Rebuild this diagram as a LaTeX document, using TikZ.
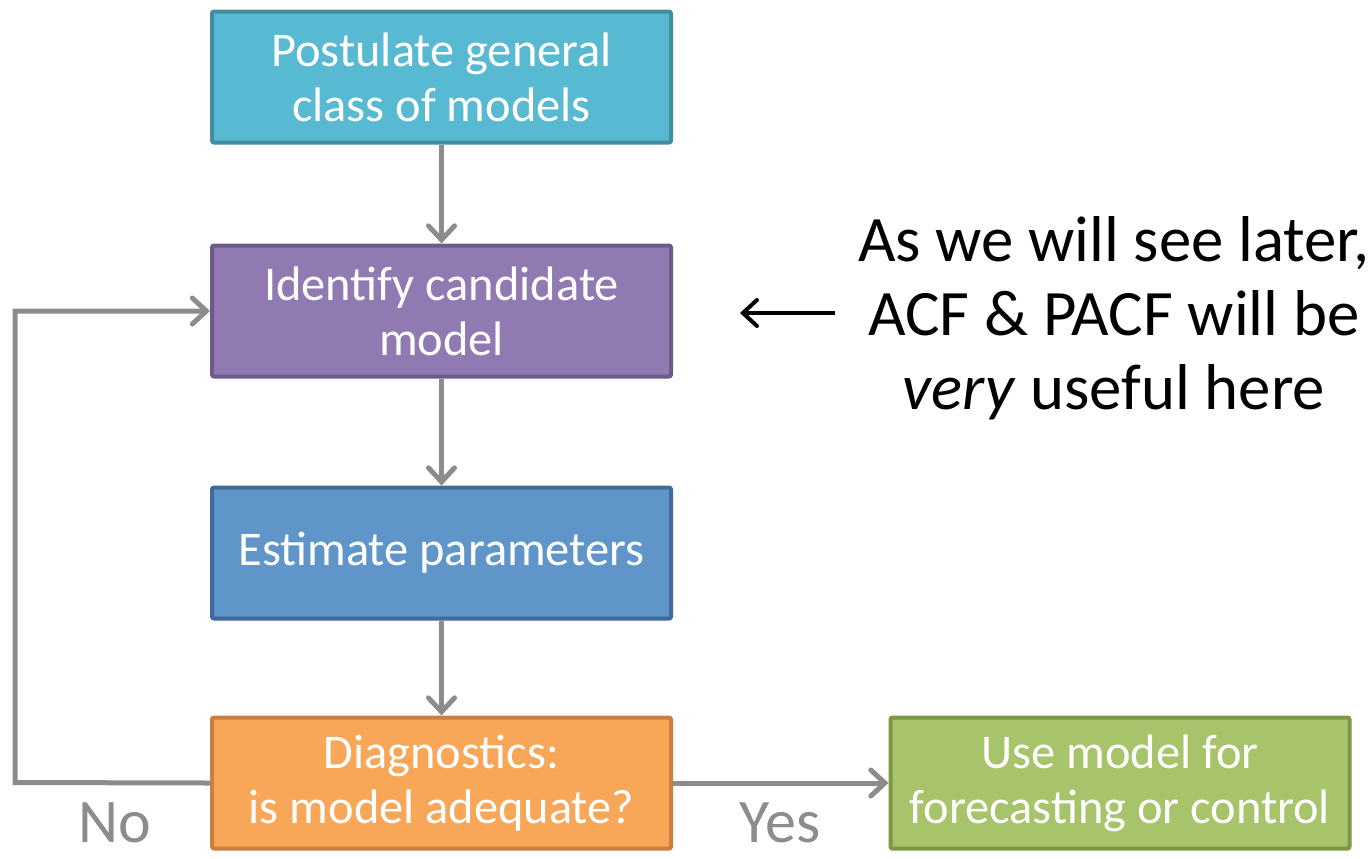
\documentclass[tikz,border=0pt]{standalone}
\usepackage{fontspec}
\setmainfont{Carlito}
\usetikzlibrary{arrows.meta}
\definecolor{aquafill}{HTML}{58B9D2}
\definecolor{aquadraw}{HTML}{418EA1}
\definecolor{purplefill}{HTML}{917AB2}
\definecolor{purpledraw}{HTML}{6E5A8A}
\definecolor{bluefill}{HTML}{5F95C8}
\definecolor{bluedraw}{HTML}{3F6A9A}
\definecolor{orangefill}{HTML}{F7A757}
\definecolor{orangedraw}{HTML}{C9803F}
\definecolor{greenfill}{HTML}{A8C46A}
\definecolor{greendraw}{HTML}{7D9845}
\definecolor{flowgrey}{HTML}{8C8C8C}
\begin{document}
\begin{tikzpicture}[x=0.5pt, y=-0.5pt,
  box/.style={draw, rectangle, align=center, line width=2pt, rounded corners=1pt,
    minimum width=229.5pt, minimum height=65.5pt, text=white,
    font=\fontsize{24.2}{27.5}\selectfont},
  flow/.style={draw=flowgrey, line width=2.5pt,
    -{Straight Barb[length=7pt, width=13pt, line cap=round]}},
  answer/.style={text=flowgrey, inner sep=0pt, anchor=base, font=\fontsize{31}{36}\selectfont}]
\useasboundingbox (0,0) rectangle (1371,858);

\node[box, fill=aquafill, draw=aquadraw] (a) at (441.5,77) {Postulate general\\class of models};
\node[box, fill=purplefill, draw=purpledraw] (b) at (441.5,311) {Identify candidate\\model};
\node[box, fill=bluefill, draw=bluedraw] (c) at (441.5,553) {Estimate parameters};
\node[box, fill=orangefill, draw=orangedraw] (d) at (441.5,783) {Diagnostics:\\is model adequate?};
\node[box, fill=greenfill, draw=greendraw] (e) at (1120,783) {Use model for\\forecasting or control};

\node[align=center, font=\fontsize{32.4}{37}\selectfont] (note) at (1114,318)
  {As we will see later,\\ACF \& PACF will be\\\textit{very} useful here};
\coordinate (tail) at (835,313);
\coordinate (tip) at (740,313);
\coordinate (back) at (15,782.5);

\node[answer] (no) at (115,842) {No};
\node[answer] (yes) at (780,842) {Yes};

\draw[flow] (a) -- (b);
\draw[flow] (b) -- (c);
\draw[flow] (c) -- (d);
\draw[flow] (d) -- (e);
\draw[flow] (d.west) -- (back) |- (b.west);
\draw[line width=2pt, -{Straight Barb[length=7pt, width=13pt, line cap=round]}] (tail) -- (tip);
\end{tikzpicture}
\end{document}
